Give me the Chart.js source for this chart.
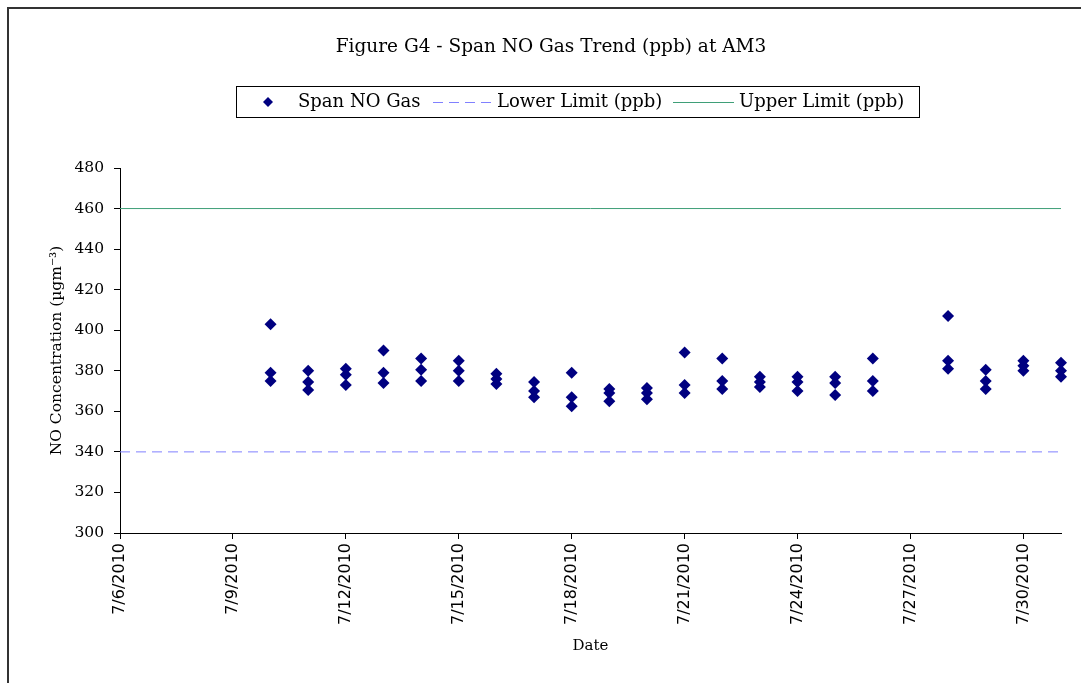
<!DOCTYPE html>
<html>
<head>
<meta charset="utf-8">
<script src="https://cdn.jsdelivr.net/npm/chart.js@4.4.1/dist/chart.umd.min.js"></script>
<style>
  body { margin: 0; background: #fff; }
  #wrap { position: relative; width: 1081px; height: 683px; }
</style>
</head>
<body>
<div id="wrap"><canvas id="myChart" width="1081" height="683"></canvas></div>
<script>
// x axis counts days from 7/6/2010
var firstDay = 6;
var sampleDays = [10, 11, 12, 13, 14, 15, 16, 17, 18, 19, 20, 21, 22, 23, 24, 25, 26, 28, 29, 30, 31];
var spanRun1 = [403, 380, 381, 390, 386, 385, 378.5, 374.5, 379, 371, 371.5, 389, 386, 377, 377, 377, 386, 407, 380.5, 385, 384];
var spanRun2 = [379, 374.5, 378, 379, 380.5, 380, 376, 370, 367, 369, 369, 373, 375, 374.5, 374.5, 374, 375, 385, 375, 382.5, 380];
var spanRun3 = [375, 370.5, 373, 374, 375, 375, 373.5, 367, 362.5, 365, 366, 369, 371, 372, 370, 368, 370, 381, 371, 380, 377];
var limitDays = [6, 31];
var lowerLimit = [340, 340];
var upperLimit = [460, 460];

var serif = "'DejaVu Serif', serif";
var navy = "#000080";
var lavender = "#8080ff";
var green = "#3f9f78";

function pts(days, vals) {
  var out = [];
  for (var i = 0; i < days.length; i++) out.push({ x: days[i] - firstDay, y: vals[i] });
  return out;
}

var spanPoints = pts(sampleDays, spanRun1).concat(pts(sampleDays, spanRun2), pts(sampleDays, spanRun3));

// title, legend box and outer frame
var decor = {
  id: "decor",
  afterDraw: function (chart) {
    var ctx = chart.ctx;
    ctx.save();
    ctx.strokeStyle = "#333";
    ctx.lineWidth = 2;
    ctx.strokeRect(8, 8, 1090, 700);

    ctx.fillStyle = "#000";
    ctx.textBaseline = "middle";
    ctx.textAlign = "center";
    ctx.font = "18.5px " + serif;
    ctx.fillText("Figure G4 - Span NO Gas Trend (ppb) at AM3", 551, 47);

    ctx.lineWidth = 1;
    ctx.strokeStyle = "#000";
    ctx.strokeRect(236.5, 86.5, 683, 31);
    var y = 102;
    ctx.fillStyle = navy;
    ctx.beginPath();
    ctx.moveTo(268, y - 5); ctx.lineTo(273, y); ctx.lineTo(268, y + 5); ctx.lineTo(263, y);
    ctx.closePath(); ctx.fill();

    ctx.fillStyle = "#000";
    ctx.textAlign = "left";
    ctx.font = "18px " + serif;
    ctx.fillText("Span NO Gas", 298, y);
    ctx.strokeStyle = lavender;
    ctx.setLineDash([10, 6]);
    ctx.beginPath(); ctx.moveTo(433, y + 0.5); ctx.lineTo(495, y + 0.5); ctx.stroke();
    ctx.setLineDash([]);
    ctx.fillText("Lower Limit (ppb)", 497, y);
    ctx.strokeStyle = green;
    ctx.beginPath(); ctx.moveTo(673, y + 0.5); ctx.lineTo(734, y + 0.5); ctx.stroke();
    ctx.fillText("Upper Limit (ppb)", 739, y);
    ctx.restore();
  }
};

new Chart("myChart", {
  type: "scatter",
  data: {
    datasets: [{
      label: "Span NO Gas",
      data: spanPoints,
      pointStyle: "rectRot",
      radius: 6,
      backgroundColor: navy,
      borderColor: navy,
      borderWidth: 0,
      clip: false,
      order: 1
    }, {
      label: "Lower Limit (ppb)",
      data: pts(limitDays, lowerLimit),
      showLine: true,
      borderColor: lavender,
      borderWidth: 1,
      borderDash: [10, 6],
      pointRadius: 0,
      order: 2
    }, {
      label: "Upper Limit (ppb)",
      data: pts(limitDays, upperLimit),
      showLine: true,
      borderColor: green,
      borderWidth: 1,
      pointRadius: 0,
      order: 2
    }]
  },
  options: {
    responsive: false,
    animation: false,
    layout: { padding: { left: 0, right: 20, top: 168, bottom: 0 } },
    plugins: {
      legend: { display: false },
      title: { display: false },
      tooltip: { enabled: false }
    },
    scales: {
      x: {
        type: "linear",
        min: 0,
        max: 25,
        afterFit: function (s) { s.height = 150; },
        afterBuildTicks: function (s) {
          var t = [];
          for (var v = 0; v <= 24; v += 3) t.push({ value: v });
          s.ticks = t;
        },
        ticks: {
          minRotation: 90,
          maxRotation: 90,
          padding: 4,
          color: "#000",
          font: { family: "'DejaVu Sans', sans-serif", size: 16 },
          callback: function (v) { return "7/" + (v + firstDay) + "/2010"; }
        },
        grid: { drawOnChartArea: false, tickLength: 6, color: "#000" },
        border: { color: "#000", width: 1 },
        title: {
          display: true,
          text: "Date",
          color: "#000",
          font: { family: serif, size: 15 },
          padding: { top: 0, bottom: 28 }
        }
      },
      y: {
        min: 300,
        max: 480,
        afterFit: function (s) { s.width = 120; },
        ticks: {
          stepSize: 20,
          padding: 10,
          color: "#000",
          font: { family: serif, size: 15.5 }
        },
        grid: { drawOnChartArea: false, tickLength: 6, color: "#000" },
        border: { color: "#000", width: 1 },
        title: {
          display: true,
          text: "NO Concentration (\u00b5gm\u207b\u00b3)",
          color: "#000",
          font: { family: serif, size: 15.5 },
          padding: { top: 48, bottom: 0 }
        }
      }
    }
  },
  plugins: [decor]
});
</script>
</body>
</html>
